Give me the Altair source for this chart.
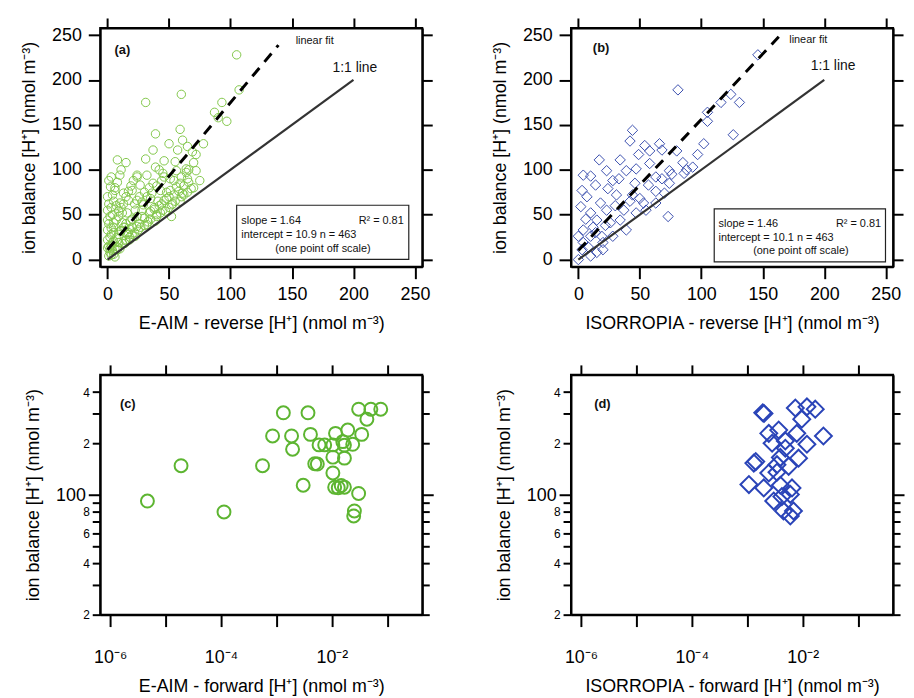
import altair as alt
import pandas as pd

# ---------------- data ----------------
# (a) E-AIM reverse vs ion balance [H+] (nmol m-3)
a_x = [105, 107, 60, 31, 93, 87, 97, 90, 59, 39, 61, 78, 37, 50, 8, 15, 31, 72, 69, 10, 39, 24, 46, 56, 72, 64,
       57, 65, 55, 64, 24, 32, 45, 51, 59, 65, 1, 2.4, 6, 13, 20, 26.5, 37, 43, 51, 56, 61, 68,
       0, 5, 10, 17, 24, 29, 35, 41, 48, 52, 59, 0, 4, 9, 16, 22.5, 28, 35, 40, 47, 52,
       0, 5, 12, 18.5, 24, 32, 39, 0, 5, 10, 17, 22.5, 0, 4, 9, 14.5, 0, 4, 8, 1, 5,
       20, 30, 40, 50, 60, 70, 25, 35, 45, 55, 65, 12, 15, 8, 3, 2, 6, 18, 27, 33, 43, 53, 62, 75,
       1, 2, 3, 1, 2, 3, 1, 4, 6, 8, 3, 11, 7, 12, 14, 18, 20, 22, 26, 30, 34, 28, 38, 44, 48, 54, 60, 66, 70, 46, 42,
       2, 3, 5, 7, 9, 11, 13, 15, 3, 5, 7, 9, 11, 13, 15, 17, 19, 21, 6, 10, 14, 18, 22, 26, 30, 34, 38, 42, 46, 50,
       54, 58, 62, 66, 16, 20, 24, 28, 32, 36, 40, 44]
a_y = [228, 189, 184, 175, 175, 164, 154, 158, 145, 140, 133, 129, 122, 129, 111, 108, 112, 117, 120, 94, 103, 92, 92, 99, 99, 97,
       122, 126, 109, 101, 94, 94, 96, 90, 85, 90, 88, 81, 77, 74, 77, 83, 85, 77, 77, 81, 74, 79,
       70, 65, 63, 66, 66, 61, 68, 65, 68, 61, 65, 55, 50, 54, 52, 55, 48, 54, 50, 54, 48,
       44, 41, 41, 43, 37, 39, 43, 33, 30, 32, 30, 26, 22, 19, 19, 21, 13, 10, 11, 4, 6,
       28, 38, 48, 58, 70, 80, 33, 45, 55, 65, 75, 18, 22, 14, 5, 8, 12, 25, 36, 42, 52, 62, 72, 88,
       15, 25, 35, 40, 48, 58, 62, 72, 80, 86, 92, 100, 60, 52, 36, 34, 45, 62, 70, 75, 80, 55, 58, 62, 75, 88, 92, 100, 108, 110, 100,
       12, 16, 20, 24, 28, 32, 36, 40, 28, 36, 44, 48, 58, 62, 70, 76, 82, 88, 3, 12, 18, 22, 30, 40, 46, 52, 56, 60, 66, 70,
       72, 76, 82, 86, 28, 36, 48, 64, 70, 74, 82, 88]

# (b) ISORROPIA reverse vs ion balance
b_x = [146, 81, 124, 131, 116, 105, 105, 126, 44, 42, 54, 66, 68, 58, 49, 102, 97, 80, 17, 34, 4, 10, 14, 39, 47, 74,
       85, 93, 86, 63, 57, 46, 63, 74, 70, 53, 47, 73, 24, 31, 37, 42, 7, 3, 2, 10, 18, 23, 15, 26, 34, 39, 4, 10,
       19, 28, 20, 15, 10, 3, 0, 4, 0, 20, 58, 33, 23, 28, 55, 63, 12, 6, 30, 44, 50, 68, 76, 88, 8, 14, 22]
b_y = [228, 189, 184, 175, 175, 164, 154, 139, 144, 132, 127, 129, 122, 121, 117, 129, 117, 121, 111, 111, 94, 93, 83, 99, 101, 99,
       108, 103, 96, 92, 83, 85, 76, 85, 74, 63, 52, 48, 79, 72, 55, 65, 70, 77, 59, 52, 63, 55, 44, 41, 44, 33, 33, 26,
       26, 26, 11, 8, 4, 11, 0, 19, 26, 19, 107, 90, 99, 88, 55, 63, 36, 45, 60, 72, 68, 90, 95, 100, 14, 30, 38]

# (c) E-AIM forward vs ion balance (log-log)
c_x = [4.7e-6, 1.9e-5, 1.13e-4, 5.6e-4, 8.5e-4, 1.33e-3, 1.87e-3, 1.95e-3, 3.03e-3, 3.7e-3, 4.1e-3, 4.9e-3, 5.45e-3,
       5.86e-3, 7.4e-3, 1.04e-2, 1.16e-2, 1.04e-2, 1.04e-2, 1.12e-2, 1.47e-2, 1.68e-2, 1.57e-2, 1.68e-2, 1.93e-2,
       2.37e-2, 3.03e-2, 3.44e-2, 3.03e-2, 2.54e-2, 2.47e-2, 4.27e-2, 5.04e-2, 7.59e-2, 1.68e-2, 1.3e-2]
c_y = [92.3, 148.6, 79.7, 148.6, 221.7, 303, 221.7, 185.4, 114.2, 303, 226.5, 152.6, 152, 196.6, 196.6, 196.6, 229.6,
       166.7, 134.7, 111.2, 113.8, 111.2, 205.4, 164.5, 240, 198.3, 317.8, 226.5, 102.3, 80.8, 75.5, 277.9, 317.8,
       317.8, 196, 110.5]

# (d) ISORROPIA forward vs ion balance (log-log)
d_x = [1.9e-3, 2.0e-3, 7.35e-3, 1.19e-2, 1.68e-2, 9.6e-3, 3.68e-3, 2.44e-3, 7.8e-3, 2.36e-2, 2.8e-3, 4.85e-3, 1.19e-2,
       4.85e-3, 3.95e-3, 8.4e-3, 1.31e-3, 1.42e-3, 2.44e-3, 3.43e-3, 5.57e-3, 1.07e-3, 1.98e-3, 3.95e-3, 6.4e-3,
       5.97e-3, 3.0e-3, 4.5e-3, 5.97e-3, 6.8e-3, 4.2e-3, 3.43e-3]
d_y = [303, 300, 323, 328, 318, 278, 240, 229.6, 229.6, 221.7, 201, 207.5, 198.3, 188, 166, 164.5, 153.9, 157, 134.7,
       150.6, 147.3, 115.3, 110.2, 114.2, 110.2, 101, 92.3, 80.8, 75.5, 80.8, 98, 136]

# fit parameters printed on panels (a), (b)
fits = {"a": (1.64, 10.9, 139), "b": (1.46, 10.1, 163)}
lin_ticks = [0, 50, 100, 150, 200, 250]
log_xticks = [1e-6, 1e-5, 1e-4, 1e-3, 1e-2, 1e-1]
log_yticks = [20, 30, 40, 50, 60, 70, 80, 90, 100, 200, 300, 400]

FONT = "Liberation Sans"
YTITLE = "ion balance [H⁺] (nmol m⁻³)"
W, H, HL = 325, 241, 242
LX = (-6, 256)
LY = (-8, 258)
GX = (-6.18, -0.37)          # log10 domain of forward axes
GY = (20, 505)


def mirror_axes(df, xsc, ysc, xvals, yvals, ytick):
    # unlabeled top and right axes that repeat the tick marks
    return alt.Chart(df).mark_point(opacity=0).encode(
        x=alt.X("x:Q", scale=xsc, axis=alt.Axis(values=xvals, orient="top", labelExpr="''", labelFontSize=1,
                                                labelPadding=0, title=None, tickSize=10)),
        y=alt.Y("y:Q", scale=ysc, axis=alt.Axis(values=yvals, orient="right", labelExpr="''", labelFontSize=1,
                                                labelPadding=0, title=None, tickSize=ytick)),
    )


def lin_panel(xs, ys, color, shape, size, fit, xtitle, ann):
    df = pd.DataFrame({"x": xs, "y": ys})
    xsc = alt.Scale(domain=list(LX), nice=False, zero=False)
    ysc = alt.Scale(domain=list(LY), nice=False, zero=False)
    pts = alt.Chart(df).mark_point(shape=shape, filled=False, size=size, strokeWidth=1, color=color, opacity=1).encode(
        x=alt.X("x:Q", scale=xsc, axis=alt.Axis(values=lin_ticks, title=xtitle, orient="bottom", titlePadding=11, labelPadding=7)),
        y=alt.Y("y:Q", scale=ysc, axis=alt.Axis(values=lin_ticks, title=YTITLE, orient="left", titlePadding=13, labelPadding=7)),
    )
    one = pd.DataFrame({"x": [0, 200], "y": [0, 200]})
    one_line = alt.Chart(one).mark_line(color="#333333", strokeWidth=2.2).encode(
        x=alt.X("x:Q", scale=xsc, axis=None), y=alt.Y("y:Q", scale=ysc, axis=None))
    slope, icpt, xend = fit
    fdf = pd.DataFrame({"x": [0, xend], "y": [icpt, slope * xend + icpt]})
    fit_line = alt.Chart(fdf).mark_line(color="black", strokeWidth=3, strokeDash=[11, 8]).encode(
        x=alt.X("x:Q", scale=xsc, axis=None), y=alt.Y("y:Q", scale=ysc, axis=None))
    box = alt.Chart(pd.DataFrame({"x": [ann["box"][0]], "x2": [ann["box"][1]], "y": [ann["box"][2]], "y2": [ann["box"][3]]})).mark_rect(
        fill="white", stroke="#222222", strokeWidth=1.2).encode(
        x=alt.X("x:Q", scale=xsc, axis=None), x2="x2:Q", y=alt.Y("y:Q", scale=ysc, axis=None), y2="y2:Q")
    texts = []
    for (t, tx, ty, size_, align, weight) in ann["texts"]:
        texts.append(alt.Chart(pd.DataFrame({"x": [tx], "y": [ty], "t": [t]})).mark_text(
            align=align, baseline="middle", font=FONT, fontSize=size_, fontWeight=weight, color="#111111").encode(
            x=alt.X("x:Q", scale=xsc, axis=None), y=alt.Y("y:Q", scale=ysc, axis=None), text="t:N"))
    mir = mirror_axes(df, xsc, ysc, lin_ticks, lin_ticks, 10)
    return alt.layer(pts, mir, one_line, fit_line, box, *texts).resolve_axis(
        x="independent", y="independent").properties(width=W, height=H)


def log_panel(xs, ys, color, shape, size, sw, xtitle, label, label_xy):
    df = pd.DataFrame({"x": xs, "y": ys})
    xsc = alt.Scale(type="log", domain=[10 ** GX[0], 10 ** GX[1]], nice=False)
    ysc = alt.Scale(type="log", domain=list(GY), nice=False)
    xlab = ("round(log(datum.value)/LN10) == -6 ? '10⁻⁶' : round(log(datum.value)/LN10) == -4 ? '10⁻⁴' : "
            "round(log(datum.value)/LN10) == -2 ? '10⁻²' : ''")
    ylab = ("datum.value == 100 ? '100' : (datum.value == 20 || datum.value == 200) ? '2' : "
            "(datum.value == 40 || datum.value == 400) ? '4' : datum.value == 60 ? '6' : datum.value == 80 ? '8' : ''")
    pts = alt.Chart(df).mark_point(shape=shape, filled=False, size=size, strokeWidth=sw, color=color, opacity=1).encode(
        x=alt.X("x:Q", scale=xsc, axis=alt.Axis(values=log_xticks, labelExpr=xlab, title=xtitle, orient="bottom",
                                                titlePadding=12, labelPadding=22)),
        y=alt.Y("y:Q", scale=ysc, axis=alt.Axis(values=log_yticks, labelExpr=ylab, title=YTITLE, orient="left",
                                                labelFontSize={"condition": {"test": "datum.value == 100", "value": 18}, "value": 12},
                                                tickSize={"condition": {"test": "datum.value == 100", "value": 12}, "value": 8},
                                                titlePadding=13, labelPadding=3)),
    )
    lab = alt.Chart(pd.DataFrame({"x": [label_xy[0]], "y": [label_xy[1]], "t": [label]})).mark_text(
        align="left", baseline="middle", font=FONT, fontSize=13, fontWeight="bold", color="#111111").encode(
        x=alt.X("x:Q", scale=xsc, axis=None), y=alt.Y("y:Q", scale=ysc, axis=None), text="t:N")
    mir = mirror_axes(df, xsc, ysc, log_xticks, log_yticks,
                      {"condition": {"test": "datum.value == 100", "value": 11}, "value": 7})
    return alt.layer(pts, mir, lab).resolve_axis(
        x="independent", y="independent").properties(width=W, height=HL)


ann_a = {
    "box": (105, 245, 0.3, 60.5),
    "texts": [
        ("(a)", 5.6, 233, 13, "left", "bold"),
        ("linear fit", 153, 243, 11, "left", "normal"),
        ("1:1 line", 183, 213, 14, "left", "normal"),
        ("slope = 1.64", 108.8, 43.2, 11, "left", "normal"),
        ("R² = 0.81", 240.9, 43.2, 11, "right", "normal"),
        ("intercept = 10.9   n = 463", 108.8, 27.9, 11, "left", "normal"),
        ("(one point off scale)", 175.2, 12.1, 11, "center", "normal"),
    ],
}
ann_b = {
    "box": (110.5, 249.8, -2.5, 56.4),
    "texts": [
        ("(b)", 11.8, 236, 13, "left", "bold"),
        ("linear fit", 171.5, 244, 11, "left", "normal"),
        ("1:1 line", 189, 215, 14, "left", "normal"),
        ("slope = 1.46", 114, 40, 11, "left", "normal"),
        ("R² = 0.81", 246.2, 40, 11, "right", "normal"),
        ("intercept = 10.1   n = 463", 114, 24.2, 11, "left", "normal"),
        ("(one point off scale)", 181, 9.1, 11, "center", "normal"),
    ],
}

pa = lin_panel(a_x, a_y, "#82c64a", "circle", 72, fits["a"], "E-AIM - reverse [H⁺] (nmol m⁻³)", ann_a)
pb = lin_panel(b_x, b_y, "#3b4fae", "diamond", 110, fits["b"], "ISORROPIA - reverse [H⁺] (nmol m⁻³)", ann_b)
pc = log_panel(c_x, c_y, "#5db531", "circle", 170, 2, "E-AIM - forward [H⁺] (nmol m⁻³)", "(c)", (1.5e-6, 341))
pd_ = log_panel(d_x, d_y, "#2a44b8", "diamond", 290, 2, "ISORROPIA - forward [H⁺] (nmol m⁻³)", "(d)", (1.73e-6, 341))

chart = alt.concat(pa, pb, pc, pd_, columns=2, spacing={"row": 109, "column": 150}, bounds="flush").properties(
    padding={"left": 11, "top": 5, "right": 0, "bottom": 0}
).configure_view(stroke="black", strokeWidth=2).configure_axis(
    domainColor="black", domainWidth=2, tickColor="black", tickWidth=2, tickSize=12,
    labelFont=FONT, labelFontSize=18, labelColor="black",
    titleFont=FONT, titleFontSize=18, titleFontWeight="normal", titleColor="black",
    grid=False, labelFlush=False, labelOverlap=False,
)

chart.save("out.html", embed_options={"renderer": "svg", "actions": False})
